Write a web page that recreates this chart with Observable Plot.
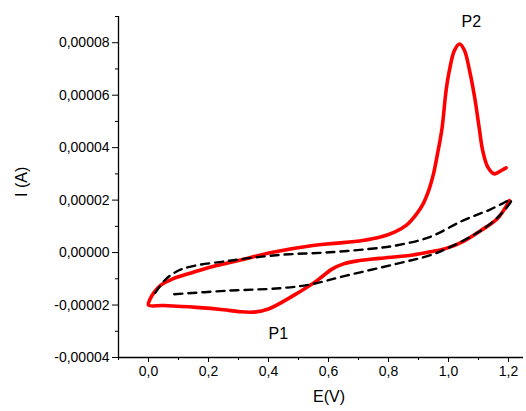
<!DOCTYPE html>
<html><head><meta charset="utf-8">
<script src="https://cdn.jsdelivr.net/npm/d3@7"></script>
<script src="https://cdn.jsdelivr.net/npm/@observablehq/plot@0.6"></script>
<style>body{margin:0;background:#fff} #chart svg{display:block}</style>
</head><body><div id="chart"></div>
<script>
// Solid red CV (I in units of 1e-5 A)
const redE = [1.192,1.176,1.153,1.131,1.114,1.103,1.087,1.070,1.053,1.037,1.020,1.003,0.992,0.978,0.964,0.950,0.935,0.915,0.892,0.860,0.820,0.770,0.714,0.620,0.548,0.414,0.300,0.214,0.150,0.081,0.040,0.020,0.005,0.000,0.050,0.159,0.250,0.300,0.350,0.400,0.450,0.500,0.540,0.575,0.610,0.650,0.700,0.770,0.881,0.940,0.992,1.050,1.108,1.165,1.203];
const redI = [3.23,3.13,3.00,3.26,3.89,4.70,5.93,6.95,7.71,7.95,7.71,6.95,6.18,4.70,3.80,3.00,2.40,1.85,1.45,1.05,0.78,0.58,0.46,0.35,0.27,0.01,-0.30,-0.53,-0.75,-1.00,-1.25,-1.50,-1.78,-2.00,-2.02,-2.09,-2.18,-2.25,-2.27,-2.15,-1.86,-1.52,-1.24,-0.95,-0.64,-0.43,-0.31,-0.22,-0.09,0.03,0.16,0.43,0.84,1.32,1.98];
// Dashed black CV
const dashE = [0.023,0.059,0.114,0.270,0.437,0.603,0.770,0.830,0.937,1.048,1.137,1.209,1.170,1.103,0.992,0.937,0.826,0.659,0.537,0.437,0.270,0.070];
const dashI = [-1.53,-1.00,-0.62,-0.31,-0.09,0.01,0.18,0.28,0.59,1.22,1.63,2.00,1.41,0.80,0.14,-0.11,-0.43,-0.88,-1.22,-1.36,-1.45,-1.60];
const xMajor = [0,0.2,0.4,0.6,0.8,1.0,1.2];
const xMinor = [-0.1,0.1,0.3,0.5,0.7,0.9,1.1];
const yMajor = [-0.00004,-0.00002,0,0.00002,0.00004,0.00006,0.00008];
const yMinor = [-0.00003,-0.00001,0.00001,0.00003,0.00005,0.00007,0.00009];
const peakLabels = ["P2","P1"];
const peakE = [1.076,0.433];
const peakI = [0.0000878,-0.0000309];

const red = redE.map((e,i)=>({E:e, I:redI[i]*1e-5}));
const dash = dashE.map((e,i)=>({E:e, I:dashI[i]*1e-5}));
const peaks = peakLabels.map((l,i)=>({label:l, E:peakE[i], I:peakI[i]}));

const fmtX = v => v.toFixed(1).replace(".", ",");
const fmtY = v => (v < 0 ? "-" : "") + Math.abs(v).toFixed(5).replace(".", ",");

const chart = Plot.plot({
  width: 526, height: 411,
  marginLeft: 118, marginRight: 3, marginTop: 16, marginBottom: 54,
  style: {fontFamily: "'Liberation Sans', Arial, sans-serif", fontSize: "14px", color: "#000", background: "#fff"},
  x: {domain: [-0.1, 1.25]},
  y: {domain: [-0.00004, 0.00009]},
  marks: [
    Plot.axisX({ticks: xMajor, tickFormat: fmtX, tickSize: 5, tickPadding: 4, label: null}),
    Plot.axisX({ticks: xMinor, tickFormat: () => "", tickSize: 3, label: null}),
    Plot.axisY({ticks: yMajor, tickFormat: fmtY, tickSize: 6, tickPadding: 3, label: null}),
    Plot.axisY({ticks: yMinor, tickFormat: () => "", tickSize: 3, label: null}),
    Plot.ruleX([-0.1], {stroke: "#000", strokeWidth: 1.3}),
    Plot.ruleY([-0.00004], {stroke: "#000", strokeWidth: 1.3}),
    Plot.line(red, {x: "E", y: "I", stroke: "#ff0000", strokeWidth: 3.6, curve: "catmull-rom"}),
    Plot.line(dash, {x: "E", y: "I", stroke: "#000", strokeWidth: 2.4, strokeDasharray: "8,6", curve: "catmull-rom"}),
    Plot.text(peaks, {x: "E", y: "I", text: "label", fontSize: 16, fill: "#000"}),
    Plot.text(["E(V)"], {frameAnchor: "bottom", dx: 8, dy: 44, fontSize: 16, fill: "#000"}),
    Plot.text(["I (A)"], {frameAnchor: "left", rotate: -90, dx: -97, dy: 10, fontSize: 16, fill: "#000"})
  ]
});
document.getElementById("chart").append(chart);
</script>
</body></html>
